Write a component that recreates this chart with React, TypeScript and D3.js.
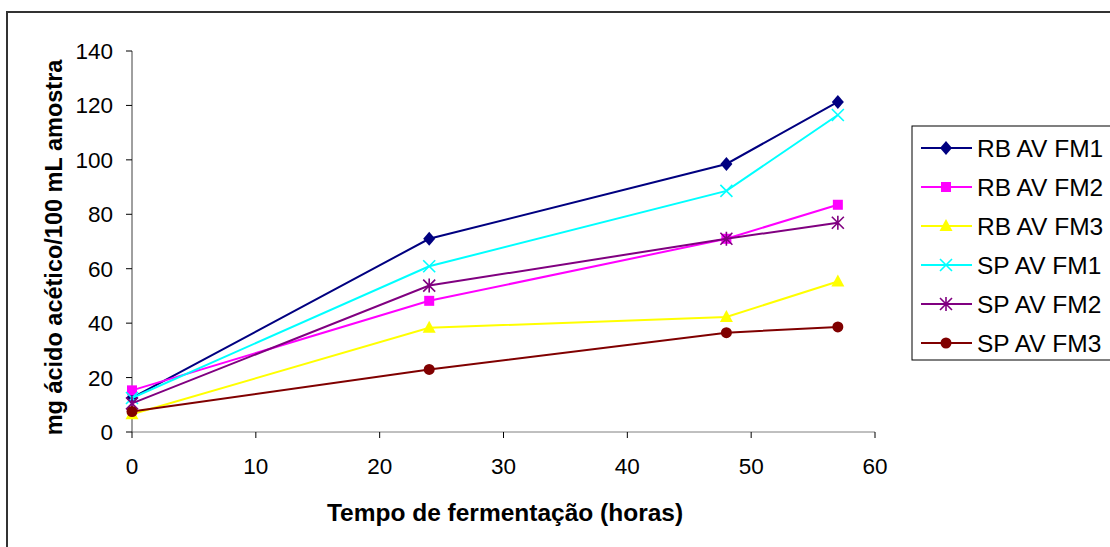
import React from "react";
import * as d3 from "d3";

const hours = [0, 24, 48, 57];
const seriesNames = ["RB AV FM1", "RB AV FM2", "RB AV FM3", "SP AV FM1", "SP AV FM2", "SP AV FM3"];
const rbFm1 = [12.5, 71, 98.5, 121.3];
const rbFm2 = [15.3, 48.2, 71, 83.5];
const rbFm3 = [6.5, 38.3, 42.3, 55.3];
const spFm1 = [12.5, 60.9, 88.6, 116.5];
const spFm2 = [10.5, 53.8, 71, 76.9];
const spFm3 = [7.5, 23, 36.5, 38.6];
const xTicks = [0, 10, 20, 30, 40, 50, 60];
const yTicks = [0, 20, 40, 60, 80, 100, 120, 140];

const seriesValues = [rbFm1, rbFm2, rbFm3, spFm1, spFm2, spFm3];
const colors = ["#000080", "#FF00FF", "#FFFF00", "#00FFFF", "#800080", "#800000"];
const markers = ["diamond", "square", "triangle", "cross", "star", "circle"];

const W = 1110;
const H = 547;
const FONT = "'Liberation Sans', Arial, sans-serif";

function Marker({ type, x, y, color }: { type: string; x: number; y: number; color: string }) {
  if (type === "diamond") {
    return <path d={`M${x},${y - 7}L${x + 6},${y}L${x},${y + 7}L${x - 6},${y}Z`} fill={color} />;
  }
  if (type === "square") {
    return <rect x={x - 5} y={y - 5} width={10} height={10} fill={color} />;
  }
  if (type === "triangle") {
    return <path d={`M${x},${y - 7}L${x + 6.5},${y + 5}L${x - 6.5},${y + 5}Z`} fill={color} />;
  }
  if (type === "cross") {
    const s = 6;
    return (
      <path d={`M${x - s},${y - s}L${x + s},${y + s}M${x - s},${y + s}L${x + s},${y - s}`} stroke={color} strokeWidth={1.6} />
    );
  }
  if (type === "star") {
    const s = 6;
    return (
      <path
        d={`M${x - s},${y - s}L${x + s},${y + s}M${x - s},${y + s}L${x + s},${y - s}M${x},${y - s - 1}L${x},${y + s + 1}`}
        stroke={color}
        strokeWidth={1.6}
      />
    );
  }
  return <circle cx={x} cy={y} r={5.5} fill={color} />;
}

export default function App() {
  const x = d3.scaleLinear().domain([0, 60]).range([132, 875]);
  const y = d3.scaleLinear().domain([0, 140]).range([432, 51]);
  const line = d3
    .line<number>()
    .x((_, i) => x(hours[i]))
    .y((v) => y(v));

  const legX = 912;
  const legY = 126;
  const rowH = 39;

  return (
    <svg
      width={W}
      height={H}
      style={{ position: "absolute", left: 0, top: 0, background: "#fff" }}
      fontFamily={FONT}
    >
      <rect x={0} y={0} width={W} height={H} fill="#fff" />
      <rect x={7} y={12} width={W + 20} height={H + 20} fill="none" stroke="#333" strokeWidth={2} />

      {/* axes */}
      <line x1={x(0)} x2={x(60)} y1={y(0)} y2={y(0)} stroke="#808080" strokeWidth={1} />
      <line x1={x(0)} x2={x(0)} y1={y(0)} y2={y(140)} stroke="#404040" strokeWidth={1} />
      {xTicks.map((t) => (
        <g key={"x" + t}>
          <line x1={x(t)} x2={x(t)} y1={y(0)} y2={y(0) + 6} stroke="#000" />
          <text x={x(t)} y={y(0) + 42} textAnchor="middle" fontSize={22.5}>
            {t}
          </text>
        </g>
      ))}
      {yTicks.map((t) => (
        <g key={"y" + t}>
          <line x1={x(0) - 6} x2={x(0)} y1={y(t)} y2={y(t)} stroke="#000" />
          <text x={x(0) - 19} y={y(t) + 8} textAnchor="end" fontSize={22.5}>
            {t}
          </text>
        </g>
      ))}

      <text x={505} y={521} textAnchor="middle" fontSize={24.5} fontWeight="bold">
        Tempo de fermentação (horas)
      </text>
      <text
        transform={`translate(62,${(y(0) + y(140)) / 2 + 6}) rotate(-90)`}
        textAnchor="middle"
        fontSize={23.5}
        fontWeight="bold"
      >
        mg ácido acético/100 mL amostra
      </text>

      {/* series */}
      {seriesValues.map((vals, si) => (
        <g key={seriesNames[si]}>
          <path d={line(vals)!} fill="none" stroke={colors[si]} strokeWidth={2} />
          {vals.map((v, i) => (
            <Marker key={i} type={markers[si]} x={x(hours[i])} y={y(v)} color={colors[si]} />
          ))}
        </g>
      ))}

      {/* legend */}
      <rect x={legX} y={legY} width={W} height={rowH * 6} fill="#fff" stroke="#000" strokeWidth={1} />
      {seriesNames.map((name, i) => {
        const cy = legY + 22 + i * rowH;
        return (
          <g key={name}>
            <line x1={921} x2={972} y1={cy} y2={cy} stroke={colors[i]} strokeWidth={2} />
            <Marker type={markers[i]} x={946} y={cy} color={colors[i]} />
            <text x={977} y={cy + 8.5} fontSize={24.5}>
              {name}
            </text>
          </g>
        );
      })}
    </svg>
  );
}
